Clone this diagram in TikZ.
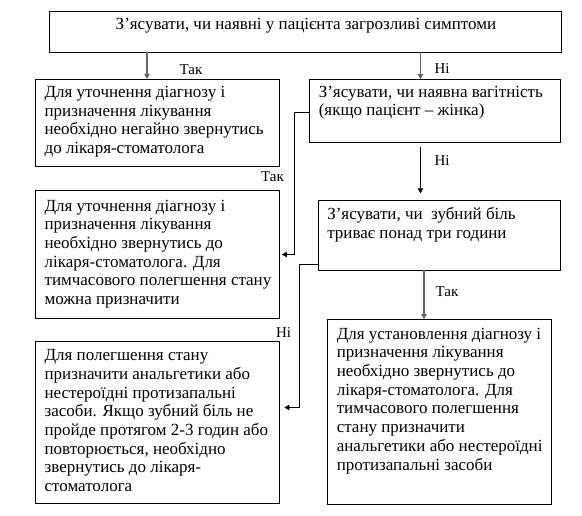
\documentclass[tikz,border=0pt]{standalone}
\usepackage{fontspec}
\setmainfont{Liberation Serif}
\usetikzlibrary{arrows.meta}
\begin{document}
\begin{tikzpicture}[x=1pt,y=-1pt,
  box/.style={draw=black, line width=0.8pt, inner sep=0pt},
  txt/.style={anchor=base west, align=left, inner sep=0pt, font=\fontsize{17}{18.7}\selectfont},
  lbl/.style={inner sep=0pt, font=\fontsize{15}{17}\selectfont},
  con/.style={draw=black, line width=0.8pt, -{Triangle[length=5pt,width=5.5pt]}},
  gcon/.style={con, draw=black!60, line width=1.1pt}]
\fill[white] (0,0) rectangle (582,516);
\useasboundingbox (0,0) rectangle (582,516);

% boxes
\node[box, minimum width=511.5pt, minimum height=40.5pt] (T) at (305.25,31.75) {};
\node[box, minimum width=244.2pt, minimum height=87.4pt] (L1) at (157.4,123) {};
\node[box, minimum width=251pt, minimum height=63pt] (R1) at (435,111) {};
\node[box, minimum width=244.2pt, minimum height=128pt] (L2) at (157.4,254.5) {};
\node[box, minimum width=242pt, minimum height=69.3pt] (R2) at (439,235.35) {};
\node[box, minimum width=244.2pt, minimum height=162.5pt] (L3) at (157.4,422.25) {};
\node[box, minimum width=223.5pt, minimum height=184.5pt] (R3) at (439.25,411.75) {};

% texts (base anchor = baseline of the last line)
\node[txt, anchor=base] (Tt) at (306,29.5) {З’ясувати, чи наявні у пацієнта загрозливі симптоми};
\node[txt] (L1t) at ([shift={(9.5,74.6)}]L1.north west) {Для уточнення діагнозу і\\призначення лікування\\необхідно негайно звернутись\\до лікаря-стоматолога};
\node[txt] (R1t) at ([shift={(9.5,36.7)}]R1.north west) {З’ясувати, чи наявна вагітність\\(якщо пацієнт – жінка)};
\node[txt] (L2t) at ([shift={(9.5,114.5)}]L2.north west) {Для уточнення діагнозу і\\призначення лікування\\необхідно звернутись до\\лікаря-стоматолога. Для\\тимчасового полегшення стану\\можна призначити};
\node[txt] (R2t) at ([shift={(9.5,38.2)}]R2.north west) {З’ясувати, чи~ зубний біль\\триває понад три години};
\node[txt] (L3t) at ([shift={(9.5,150.9)}]L3.north west) {Для полегшення стану\\призначити анальгетики або\\нестероїдні протизапальні\\засоби. Якщо зубний біль не\\пройде протягом 2-3 годин або\\повторюється, необхідно\\звернутись до лікаря-\\стоматолога};
\node[txt] (R3t) at ([shift={(9.5,150.9)}]R3.north west) {Для установлення діагнозу і\\призначення лікування\\необхідно звернутись до\\лікаря-стоматолога. Для\\тимчасового полегшення\\стану призначити\\анальгетики або нестероїдні\\протизапальні засоби};

% connector helper coordinates
\coordinate (c1) at (147,0);
\coordinate (c2) at (420.5,0);
\coordinate (c3) at (424,0);
\coordinate (k1) at (294.5,0);
\coordinate (k2) at (299.5,407.5);

% connectors
\draw[gcon] (T.south -| c1) -- (L1.north -| c1);
\draw[gcon] (T.south -| c2) -- (R1.north -| c2);
\draw[con, shorten <=4pt, shorten >=7pt] (R1.south -| c2) -- (R2.north -| c2);
\draw[con, shorten >=2pt] ([yshift=-1.5pt]R1.west) -| (k1 |- L2.east) -- (L2.east);
\draw[con, shorten >=4.5pt] ([yshift=-29pt]R2.west) -| (k2) -- (k2 -| L3.east);
\draw[gcon] (R2.south -| c3) -- (R3.north -| c3);

% labels
\node[lbl] (y1) at (191,70) {Так};
\node[lbl] (n1) at (442,69) {Ні};
\node[lbl] (n2) at (442,161) {Ні};
\node[lbl] (y2) at (272.5,177) {Так};
\node[lbl] (y3) at (447,292) {Так};
\node[lbl] (n3) at (283.5,333) {Ні};
\end{tikzpicture}
\end{document}
